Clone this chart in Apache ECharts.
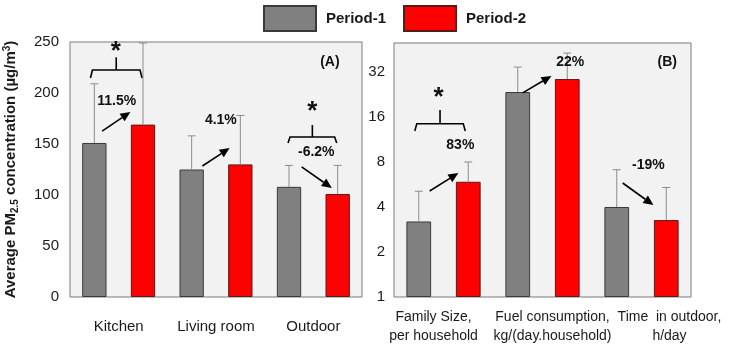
<!DOCTYPE html>
<html>
<head>
<meta charset="utf-8">
<script src="https://cdn.jsdelivr.net/npm/echarts@6/dist/echarts.min.js"></script>
<style>
  html, body { margin: 0; padding: 0; background: #fff; }
  #chart { width: 730px; height: 346px; }
</style>
</head>
<body>
<div id="chart"></div>
<script>
// panel A: PM2.5 by location
var locations = ['Kitchen', 'Living room', 'Outdoor'];
var pmPeriod1 = [151, 125, 108];
var pmPeriod2 = [169, 130, 101];
var pmErr1 = [209, 158, 129];   // top of error whisker
var pmErr2 = [249, 178, 129];
var pmTicks = [0, 50, 100, 150, 200, 250];

// panel B: household factors (log2 axis)
var factors = ['Family Size,\nper household', 'Fuel consumption,\nkg/(day.household)', 'Time\u00a0 in outdoor,\nh/day'];
var facPeriod1 = [3.2, 23.5, 4.0];
var facPeriod2 = [5.9, 28.7, 3.27];
var facErr1 = [5.1, 34.5, 7.1];
var facErr2 = [8.0, 42.8, 5.4];

// annotations, in data units (x: category index on a hidden value axis)
var arrowsA = [[-0.17, 162.7, 0.12, 181.4], [0.86, 128.4, 1.14, 146], [1.88, 127.5, 2.19, 106.9]];
var textsA = [['*', -0.03, 240], ['11.5%', -0.02, 192], ['4.1%', 1.05, 173.5], ['*', 1.99, 182], ['-6.2%', 2.03, 142.2], ['(A)', 2.17, 230.4]];
var bracketsA = [[-0.29, 0.24, 222.5, 214.7, 235], [1.74, 2.24, 156.9, 151, 168.6]];

var arrowsB = [[-0.14, 5.12, 0.15, 6.75], [0.8, 23.2, 1.09, 30.1], [1.81, 5.79, 2.12, 4.12]];
var textsB = [['*', -0.05, 21.5], ['83%', 0.17, 10.4], ['22%', 1.28, 37.3], ['-19%', 2.07, 7.64], ['(B)', 2.26, 37.3]];
var bracketsB = [[-0.29, 0.22, 14.4, 12.9, 17.8]];

var FONT = '"Liberation Sans", Arial, sans-serif';

var chart = echarts.init(document.getElementById('chart'));

function errorSeries(name, xi, yi, means, tops, off) {
  return {
    name: name,
    type: 'custom',
    xAxisIndex: xi,
    yAxisIndex: yi,
    z: 5,
    data: means.map(function (m, i) { return [i, m, tops[i]]; }),
    renderItem: function (params, api) {
      var i = api.value(0);
      var b = api.coord([i, api.value(1)]);
      var t = api.coord([i, api.value(2)]);
      var band = api.coord([1, api.value(1)])[0] - api.coord([0, api.value(1)])[0];
      var x = b[0] + off * band;
      var st = { stroke: '#8c8c8c', lineWidth: 1 };
      return {
        type: 'group',
        children: [
          { type: 'line', shape: { x1: x, y1: b[1], x2: x, y2: t[1] }, style: st },
          { type: 'line', shape: { x1: x - 4, y1: t[1], x2: x + 4, y2: t[1] }, style: st }
        ]
      };
    }
  };
}

function arrowSeries(xi, yi, rows) {
  return {
    type: 'custom', xAxisIndex: xi, yAxisIndex: yi, z: 10, silent: true,
    data: rows,
    renderItem: function (params, api) {
      var p1 = api.coord([api.value(0), api.value(1)]);
      var p2 = api.coord([api.value(2), api.value(3)]);
      var dx = p2[0] - p1[0], dy = p2[1] - p1[1];
      var len = Math.sqrt(dx * dx + dy * dy);
      var ux = dx / len, uy = dy / len;
      var hl = 10, hw = 4.5;
      var bx = p2[0] - ux * hl, by = p2[1] - uy * hl;
      return {
        type: 'group',
        children: [
          { type: 'line', shape: { x1: p1[0], y1: p1[1], x2: bx, y2: by }, style: { stroke: '#000', lineWidth: 1.6 } },
          { type: 'polygon', shape: { points: [[p2[0], p2[1]], [bx - uy * hw, by + ux * hw], [bx + uy * hw, by - ux * hw]] }, style: { fill: '#000' } }
        ]
      };
    }
  };
}

function textSeries(xi, yi, rows) {
  return {
    type: 'custom', xAxisIndex: xi, yAxisIndex: yi, z: 10, silent: true,
    data: rows.map(function (r) { return [r[1], r[2]]; }),
    renderItem: function (params, api) {
      var p = api.coord([api.value(0), api.value(1)]);
      var label = rows[params.dataIndex][0];
      var star = label === '*';
      return {
        type: 'text',
        x: p[0], y: p[1],
        style: {
          text: label,
          fill: '#111',
          font: 'bold ' + (star ? 26 : 14) + 'px ' + FONT,
          align: 'center',
          verticalAlign: 'middle'
        }
      };
    }
  };
}

function bracketSeries(xi, yi, rows) {
  return {
    type: 'custom', xAxisIndex: xi, yAxisIndex: yi, z: 10, silent: true,
    data: rows.map(function (r) { return [r[0], r[2], r[1], r[3], r[4]]; }),
    renderItem: function (params, api) {
      var r = rows[params.dataIndex];
      var a = api.coord([r[0], r[2]]);
      var b = api.coord([r[1], r[2]]);
      var yEnd = api.coord([r[0], r[3]])[1];
      var yTop = api.coord([r[0], r[4]])[1];
      var xm = (a[0] + b[0]) / 2;
      var st = { stroke: '#000', lineWidth: 1.6, fill: null };
      return {
        type: 'group',
        children: [
          { type: 'polyline', shape: { points: [[a[0], yEnd], [a[0] + 2, a[1]], [b[0] - 2, b[1]], [b[0], yEnd]] }, style: st },
          { type: 'line', shape: { x1: xm, y1: a[1], x2: xm, y2: yTop }, style: st }
        ]
      };
    }
  };
}

var barStyle1 = { color: '#808080', borderColor: '#3a3a3a', borderWidth: 1 };
var barStyle2 = { color: '#ff0000', borderColor: '#5a1a1a', borderWidth: 1 };
var labelStyle = { color: '#1a1a1a', fontSize: 15, fontFamily: FONT };

// the factor labels sit a little off their band centres in the original
var factorPads = [[0, 20, 0, 0], [0, 0, 0, 20], [0, 0, 0, 56]];

var option = {
  backgroundColor: '#fff',
  animation: false,
  legend: {
    data: ['Period-1', 'Period-2'],
    left: 263,
    top: 5,
    padding: 0,
    itemWidth: 52,
    itemHeight: 25,
    itemGap: 17,
    icon: 'rect',
    textStyle: { fontSize: 15, fontWeight: 'bold', color: '#1a1a1a', fontFamily: FONT, padding: [0, 0, 0, 5] }
  },
  grid: [
    { left: 70, right: 368, top: 42, bottom: 49, show: true, backgroundColor: '#f2f2f2', borderColor: '#7a7a7a', borderWidth: 1 },
    { left: 394, right: 39, top: 43, bottom: 49, show: true, backgroundColor: '#f2f2f2', borderColor: '#7a7a7a', borderWidth: 1 }
  ],
  xAxis: [
    { type: 'category', gridIndex: 0, data: locations, axisLine: { show: false }, axisTick: { show: false },
      axisLabel: Object.assign({ margin: 22, interval: 0 }, labelStyle) },
    { type: 'category', gridIndex: 1,
      data: factors.map(function (f, i) { return { value: f, textStyle: { padding: factorPads[i] } }; }),
      axisLine: { show: false }, axisTick: { show: false },
      axisLabel: Object.assign({}, labelStyle, { margin: 11, lineHeight: 19, interval: 0, fontSize: 14 }) },
    { type: 'value', gridIndex: 0, min: -0.5, max: 2.5, show: false },
    { type: 'value', gridIndex: 1, min: -0.5, max: 2.5, show: false }
  ],
  yAxis: [
    { type: 'value', gridIndex: 0, min: pmTicks[0], max: pmTicks[pmTicks.length - 1], interval: 50,
      axisLine: { show: false }, axisTick: { show: false }, splitLine: { show: false },
      axisLabel: Object.assign({ margin: 11 }, labelStyle),
      name: '{n|Average PM}{s|2.5}{n| concentration (\u00b5g/m}{p|3}{n|)}',
      nameLocation: 'middle', nameGap: 50, nameRotate: 90,
      nameTextStyle: {
        rich: {
          n: { fontSize: 15, fontWeight: 'bold', color: '#1a1a1a', fontFamily: FONT },
          s: { fontSize: 10, fontWeight: 'bold', color: '#1a1a1a', fontFamily: FONT, padding: [9, 0, 0, 0] },
          p: { fontSize: 10, fontWeight: 'bold', color: '#1a1a1a', fontFamily: FONT, padding: [0, 0, 7, 0] }
        }
      }
    },
    { type: 'log', logBase: 2, gridIndex: 1, min: 1, max: 50,
      axisLine: { show: false }, axisTick: { show: false }, splitLine: { show: false },
      axisLabel: Object.assign({
        margin: 9,
        showMaxLabel: false,
        formatter: function (v) {
          var l = Math.log2(v);
          return Math.abs(l - Math.round(l)) < 1e-6 ? String(Math.round(v)) : '';
        }
      }, labelStyle)
    }
  ],
  series: [
    { name: 'Period-1', type: 'bar', xAxisIndex: 0, yAxisIndex: 0, data: pmPeriod1, barWidth: '25%', barGap: '100%', itemStyle: barStyle1 },
    { name: 'Period-2', type: 'bar', xAxisIndex: 0, yAxisIndex: 0, data: pmPeriod2, barWidth: '25%', barGap: '100%', itemStyle: barStyle2 },
    { name: 'Period-1', type: 'bar', xAxisIndex: 1, yAxisIndex: 1, data: facPeriod1, barWidth: '25%', barGap: '100%', itemStyle: barStyle1 },
    { name: 'Period-2', type: 'bar', xAxisIndex: 1, yAxisIndex: 1, data: facPeriod2, barWidth: '25%', barGap: '100%', itemStyle: barStyle2 },
    errorSeries('errA1', 0, 0, pmPeriod1, pmErr1, -0.25),
    errorSeries('errA2', 0, 0, pmPeriod2, pmErr2, 0.25),
    errorSeries('errB1', 1, 1, facPeriod1, facErr1, -0.25),
    errorSeries('errB2', 1, 1, facPeriod2, facErr2, 0.25),
    arrowSeries(2, 0, arrowsA),
    textSeries(2, 0, textsA),
    bracketSeries(2, 0, bracketsA),
    arrowSeries(3, 1, arrowsB),
    textSeries(3, 1, textsB),
    bracketSeries(3, 1, bracketsB)
  ]
};

chart.setOption(option);
</script>
</body>
</html>
